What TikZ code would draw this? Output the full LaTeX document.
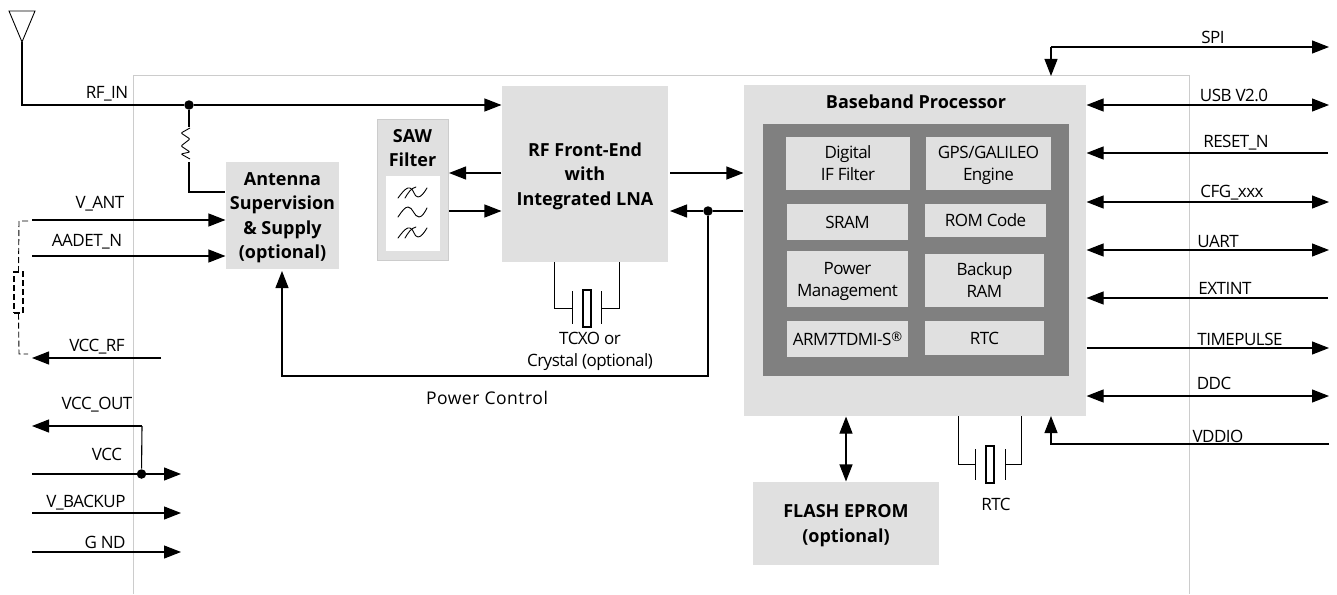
\documentclass[tikz,border=0pt]{standalone}
\usepackage{fontspec}
\setmainfont[LetterSpace=-3,BoldFeatures={LetterSpace=0}]{Open Sans}
\usetikzlibrary{arrows.meta}
\definecolor{blockgray}{HTML}{E0E0E0}
\definecolor{coregray}{HTML}{808080}
\definecolor{framegray}{HTML}{CCCCCC}
\begin{document}
\begin{tikzpicture}
    [
    x=1pt,y=-1pt,
    every node/.style={font=\fontsize{17}{22}\selectfont},
    line width=1.1pt,
    sig/.style={-{Triangle[length=17pt,width=13pt]}},
    bisig/.style={{Triangle[length=17pt,width=13pt]}-{Triangle[length=17pt,width=13pt]}},
    block/.style={fill=blockgray,inner sep=0pt,align=center,text depth=-1pt,font=\fontsize{18}{24.5}\selectfont\bfseries},
    unit/.style={fill=blockgray,inner sep=0pt,align=center,text depth=0pt},
    dot/.style={circle,fill=black,inner sep=0pt,minimum size=9.5pt},
    lbl/.style={inner sep=0pt,align=center},
    thin line/.style={line width=0.9pt},
    wave/.style={line width=0.9pt,line cap=round}
    ]
    \useasboundingbox (0,0) rectangle (1337,594);
    \coordinate (fa) at (133,594);
    \coordinate (fb) at (133,75);
    \coordinate (fc) at (1189,75);
    \coordinate (fd) at (1189,594);
    \draw [framegray,line width=0.9pt] (fa) -- (fb) -- (fc) -- (fd);

    % blocks
    \node (ant) at (282.5,215.5) [block,minimum width=113pt,minimum height=107pt] {Antenna\\Supervision\\\&{} Supply\\(optional)};
    \node (saw) at (412.5,189.5) [fill=blockgray,draw=framegray,inner sep=0pt,line width=0.6pt,minimum width=71pt,minimum height=141pt] {};
    \node (sawt) at (412.5,148) [lbl,font=\fontsize{18}{24.5}\selectfont\bfseries] {SAW\\Filter};
    \node (sawin) at (413,213.5) [fill=white,inner sep=0pt,minimum width=54pt,minimum height=75pt] {};
    \node (rf) at (585,174) [block,minimum width=166pt,minimum height=176pt] {RF Front-End\\with\\Integrated LNA};
    \node (bb) at (915,250.5) [fill=blockgray,inner sep=0pt,minimum width=342pt,minimum height=331pt] {};
    \node (bbt) at (916,102) [lbl,font=\fontsize{18}{24}\selectfont\bfseries] {Baseband Processor};
    \node (core) at (916,250) [fill=coregray,inner sep=0pt,minimum width=306pt,minimum height=252pt] {};
    \node (dig) at (848,163.5) [unit,minimum width=124pt,minimum height=53pt] {Digital\\IF Filter};
    \node (gps) at (988.5,163.5) [unit,minimum width=125pt,minimum height=53pt] {GPS/GALILEO\\Engine};
    \node (sram) at (847.5,222) [unit,minimum width=121pt,minimum height=36pt] {SRAM};
    \node (rom) at (985.5,220.5) [unit,minimum width=121pt,minimum height=33pt] {ROM Code};
    \node (pwr) at (847.5,279) [unit,minimum width=121pt,minimum height=56pt] {Power\\Management};
    \node (ram) at (984.5,280.5) [unit,minimum width=119pt,minimum height=53pt] {Backup\\RAM};
    \node (arm) at (847.5,339) [unit,minimum width=121pt,minimum height=36pt] {ARM7TDMI-S\raisebox{4pt}{\fontsize{13}{13}\selectfont ®}};
    \node (rtc) at (984.5,338) [unit,minimum width=119pt,minimum height=34pt] {RTC};
    \node (flash) at (846,523.5) [block,minimum width=186pt,minimum height=83pt] {FLASH EPROM\\(optional)};

    % SAW symbol
    \draw [wave] (398,198) .. controls (404,190) and (407,187) .. (410,188) .. controls (414,189) and (414,197) .. (418,197) .. controls (421,197) and (424,193) .. (427,188);
    \draw [wave] (405,198) .. controls (408,193) and (411,188) .. (416,187);
    \draw [wave] (398,217) .. controls (402,211) and (405,207) .. (408,207) .. controls (413,207) and (414,217) .. (419,217) .. controls (422,217) and (425,212) .. (427,208);
    \draw [wave] (398,238) .. controls (404,230) and (407,227) .. (410,228) .. controls (414,229) and (414,237) .. (418,237) .. controls (421,237) and (424,233) .. (427,228);
    \draw [wave] (405,238) .. controls (408,233) and (411,228) .. (416,227);

    % antenna and RF input
    \coordinate (anta) at (9,11);
    \coordinate (antb) at (35,11);
    \coordinate (antc) at (22,42);
    \coordinate (antd) at (22,105);
    \draw [thin line] (anta) -- (antb) -- (antc) -- cycle;
    \node (rfdot) at (189,105) [dot] {};
    \draw (antc) -- (antd) -- (rfdot);
    \draw [sig] (rfdot) -- (rfdot -| rf.west);
    \coordinate (resa) at (189,127);
    \coordinate (resb) at (189,162);
    \coordinate (resc) at (189,192);
    \draw (rfdot) -- (resa);
    \draw (resb) -- (resc) -- (resc -| ant.west);
    \draw [thin line,line join=round,rounded corners=1pt] (190,128) -- (181,133) -- (190,139) -- (181,146) -- (190,152) -- (181,154) -- (190,159);
    \node (rfl) at (107,94) [lbl] {RF\_IN};

    % left pins
    \coordinate (vant) at (32,220);
    \coordinate (aadet) at (32,256);
    \draw [sig] (vant) -- (vant -| ant.west);
    \draw [sig] (aadet) -- (aadet -| ant.west);
    \node (vantl) at (100,204) [lbl] {V\_ANT};
    \node (aadetl) at (87,242) [lbl] {AADET\_N};
    \node (ext) at (18.5,292.5) [draw,dash pattern=on 6pt off 3pt,inner sep=0pt,minimum width=9pt,minimum height=41pt,line width=1.3pt] {};
    \coordinate (dasha) at (28,221);
    \coordinate (dashb) at (19,221);
    \coordinate (dashc) at (19,354);
    \coordinate (dashd) at (28,354);
    \draw [dash pattern=on 6pt off 3pt,line width=0.9pt] (dasha) -- (dashb) -- (ext.north);
    \draw [dash pattern=on 6pt off 3pt,line width=0.9pt] (ext.south) -- (dashc) -- (dashd);
    \coordinate (vrfa) at (161,358);
    \coordinate (vrfb) at (32,358);
    \draw [sig] (vrfa) -- (vrfb);
    \node (vrfl) at (97,347) [lbl] {VCC\_RF};
    \node (vccdot) at (141.5,474) [dot] {};
    \coordinate (vouta) at (142,426);
    \coordinate (voutb) at (32,426);
    \draw (vccdot) -- (vouta);
    \draw [sig] (vouta) -- (voutb);
    \node (voutl) at (97,405) [lbl] {VCC\_OUT};
    \coordinate (vcca) at (32,474);
    \coordinate (vccb) at (181,474);
    \draw [sig] (vcca) -- (vccb);
    \node (vccl) at (107,454) [lbl] {VCC};
    \coordinate (vbaka) at (32,513);
    \coordinate (vbakb) at (181,513);
    \draw [sig] (vbaka) -- (vbakb);
    \node (vbakl) at (86,503) [lbl] {V\_BACKUP};
    \coordinate (gnda) at (32,552);
    \coordinate (gndb) at (181,552);
    \draw [sig] (gnda) -- (gndb);
    \node (gndl) at (105,542) [lbl] {G ND};

    % links between blocks
    \coordinate (sawr) at (449,173);
    \coordinate (sawq) at (449,211);
    \draw [sig] (sawr -| rf.west) -- (sawr);
    \draw [sig] (sawq) -- (sawq -| rf.west);
    \coordinate (bbin) at (670,173);
    \draw [sig] (bbin) -- (bbin -| bb.west);
    \node (pcdot) at (708,211) [dot] {};
    \coordinate (rfr) at (670,211);
    \draw (pcdot -| bb.west) -- (pcdot);
    \draw [sig] (pcdot) -- (rfr);
    \coordinate (pca) at (708,376);
    \coordinate (pcb) at (282,376);
    \coordinate (pcc) at (282,271);
    \draw [sig] (pcdot) -- (pca) -- (pcb) -- (pcc);
    \node (pcl) at (487,398) [lbl,font=\fontsize{17.5}{22}\selectfont\addfontfeature{LetterSpace=3}] {Power Control};
    \draw [bisig] (bb.south -| flash.north) -- (flash.north);

    % TCXO
    \coordinate (xa) at (554,262);
    \coordinate (xb) at (554,308);
    \coordinate (xc) at (572,308);
    \coordinate (xd) at (601,308);
    \coordinate (xe) at (619,308);
    \coordinate (xf) at (619,262);
    \draw [thin line] (xa) -- (xb) -- (xc);
    \draw [thin line] (xd) -- (xe) -- (xf);
    \draw [thin line] (572,291) -- (572,324);
    \draw [thin line] (601,291) -- (601,324);
    \node (xtal) at (587,308.5) [draw,inner sep=0pt,minimum width=8pt,minimum height=37pt,line width=1.1pt] {};
    \node (xl) at (590,351) [lbl] {TCXO or\\Crystal (optional)};

    % RTC crystal
    \coordinate (ya) at (958,416);
    \coordinate (yb) at (958,464);
    \coordinate (yc) at (975,464);
    \coordinate (yd) at (1005,464);
    \coordinate (ye) at (1021,464);
    \coordinate (yf) at (1021,416);
    \draw [thin line] (ya) -- (yb) -- (yc);
    \draw [thin line] (yd) -- (ye) -- (yf);
    \draw [thin line] (975,449) -- (975,480);
    \draw [thin line] (1005,449) -- (1005,480);
    \node (ytal) at (990,464.5) [draw,inner sep=0pt,minimum width=8pt,minimum height=37pt,line width=1.1pt] {};
    \node (yl) at (996,504) [lbl] {RTC};

    % right pins
    \coordinate (spia) at (1329,47);
    \coordinate (spib) at (1051,47);
    \coordinate (spic) at (1051,76);
    \draw [sig] (spib) -- (spia);
    \draw [sig] (spib) -- (spic);
    \node (spil) at (1213,37) [lbl] {SPI};
    \coordinate (usb) at (1329,105);
    \draw [bisig] (usb -| bb.east) -- (usb);
    \node (usbl) at (1234,95) [lbl] {USB V2.0};
    \coordinate (rst) at (1328,153);
    \draw [sig] (rst) -- (rst -| bb.east);
    \node (rstl) at (1236,143) [lbl] {RESET\_N};
    \coordinate (cfg) at (1329,202);
    \draw [bisig] (cfg -| bb.east) -- (cfg);
    \node (cfgl) at (1232,193) [lbl] {CFG\_xxx};
    \coordinate (uart) at (1329,250);
    \draw [bisig] (uart -| bb.east) -- (uart);
    \node (uartl) at (1218,241) [lbl] {UART};
    \coordinate (eint) at (1328,298);
    \draw [sig] (eint) -- (eint -| bb.east);
    \node (eintl) at (1225,288) [lbl] {EXTINT};
    \coordinate (tp) at (1329,348);
    \draw [sig] (tp -| bb.east) -- (tp);
    \node (tpl) at (1240,339) [lbl] {TIMEPULSE};
    \coordinate (ddc) at (1329,396);
    \draw [bisig] (ddc -| bb.east) -- (ddc);
    \node (ddcl) at (1214,383) [lbl] {DDC};
    \coordinate (vioa) at (1329,444);
    \coordinate (viob) at (1051,444);
    \coordinate (vioc) at (1051,416);
    \draw [sig] (vioa) -- (viob) -- (vioc);
    \node (viol) at (1218,436) [lbl] {VDDIO};
\end{tikzpicture}
\end{document}
